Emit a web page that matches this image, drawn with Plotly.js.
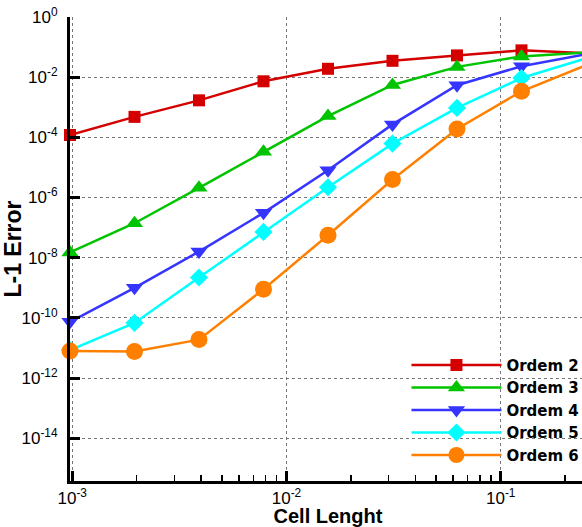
<!DOCTYPE html>
<html><head><meta charset="utf-8">
<script src="https://cdn.plot.ly/plotly-3.0.1.min.js"></script>
<style>html,body{margin:0;padding:0;overflow:hidden;background:#fff}</style>
</head><body><div id="chart"></div>
<script>
const cellLength = [1/1024, 1/512, 1/256, 1/128, 1/64, 1/32, 1/16, 1/8, 1/4];
const ordem2 = [1.2e-4, 4.8e-4, 1.7e-3, 7.3e-3, 1.9e-2, 3.5e-2, 5.3e-2, 7.8e-2, 6.3e-2];
const ordem3 = [1.5e-8, 1.4e-7, 2.1e-6, 3.3e-5, 5.1e-4, 5.5e-3, 2.2e-2, 4.9e-2, 6.6e-2];
const ordem4 = [7.4e-11, 1.0e-9, 1.6e-8, 3.1e-7, 8.1e-6, 2.7e-4, 5.4e-3, 2.3e-2, 5.8e-2];
const ordem5 = [8.5e-12, 6.8e-11, 2.2e-9, 7.2e-8, 2.2e-6, 6.2e-5, 9.5e-4, 9.4e-3, 4.2e-2];
const ordem6 = [7.9e-12, 7.6e-12, 1.9e-11, 9.0e-10, 5.6e-8, 4.0e-6, 1.9e-4, 3.4e-3, 2.5e-2];
const seriesNames = ['Ordem 2', 'Ordem 3', 'Ordem 4', 'Ordem 5', 'Ordem 6'];
const xTickVals = [1e-3, 1e-2, 1e-1];
const xTickText = ['10<sup>-3</sup>', '10<sup>-2</sup>', '10<sup>-1</sup>'];
const yTickVals = [1, 1e-2, 1e-4, 1e-6, 1e-8, 1e-10, 1e-12, 1e-14];
const yTickText = ['10<sup>0</sup>', '10<sup>-2</sup>', '10<sup>-4</sup>', '10<sup>-6</sup>', '10<sup>-8</sup>', '10<sup>-10</sup>', '10<sup>-12</sup>', '10<sup>-14</sup>'];

const allY = [ordem2, ordem3, ordem4, ordem5, ordem6];
const colors = ['#d40000', '#00c400', '#3535ff', '#00ffff', '#ff8000'];
const symbols = ['square', 'triangle-up', 'triangle-down', 'diamond', 'circle'];
const sizes = [12, 15, 15, 14, 17];

const traces = allY.map((ys, i) => ({
  x: cellLength, y: ys, name: seriesNames[i], type: 'scatter', mode: 'lines+markers',
  line: {color: colors[i], width: 2.5},
  marker: {color: colors[i], symbol: symbols[i], size: sizes[i], line: {width: 0}},
  cliponaxis: false
}));

const fontFam = 'Liberation Sans, Arial, Helvetica, sans-serif';
const layout = {
  width: 586, height: 527,
  margin: {l: 70, r: 0, t: 17, b: 46},
  paper_bgcolor: '#fff', plot_bgcolor: '#fff',
  font: {family: fontFam, color: '#000', size: 17},
  showlegend: true,
  legend: {
    x: 0.997, xanchor: 'right', y: 0.285, yanchor: 'top',
    bgcolor: 'rgba(255,255,255,0)', borderwidth: 0,
    font: {family: 'DejaVu Sans, Liberation Sans, sans-serif', size: 15, color: '#000', weight: 'bold'},
    itemwidth: 90, tracegroupgap: 0
  },
  xaxis: {
    type: 'log', range: [Math.log10(1/1024), Math.log10(0.25)],
    tickmode: 'array', tickvals: xTickVals, ticktext: xTickText,
    ticks: 'inside', ticklen: 10, tickwidth: 3, tickcolor: '#000',
    showline: true, linewidth: 3, linecolor: '#000', mirror: false,
    showgrid: true, gridcolor: '#777', griddash: 'dot', gridwidth: 1,
    zeroline: false,
    minor: {ticks: 'inside', ticklen: 6, tickwidth: 1.5, tickcolor: '#000', dtick: 'D1', showgrid: false},
    tickfont: {size: 17, family: fontFam},
    title: {text: 'Cell Lenght', font: {size: 20, family: fontFam, weight: 'bold'}, standoff: 5}
  },
  yaxis: {
    type: 'log', range: [-15.42, 0],
    tickmode: 'array', tickvals: yTickVals, ticktext: yTickText,
    ticks: 'inside', ticklen: 10, tickwidth: 3, tickcolor: '#000',
    showline: true, linewidth: 3, linecolor: '#000', mirror: false,
    showgrid: true, gridcolor: '#777', griddash: 'dot', gridwidth: 1,
    zeroline: false, ticklabelstandoff: 6,
    tickfont: {size: 17, family: fontFam},
    title: {text: 'L-1 Error', font: {size: 23, family: fontFam, weight: 'bold'}, standoff: 0}
  }
};
Plotly.newPlot('chart', traces, layout, {displayModeBar: false, staticPlot: true});
</script></body></html>
